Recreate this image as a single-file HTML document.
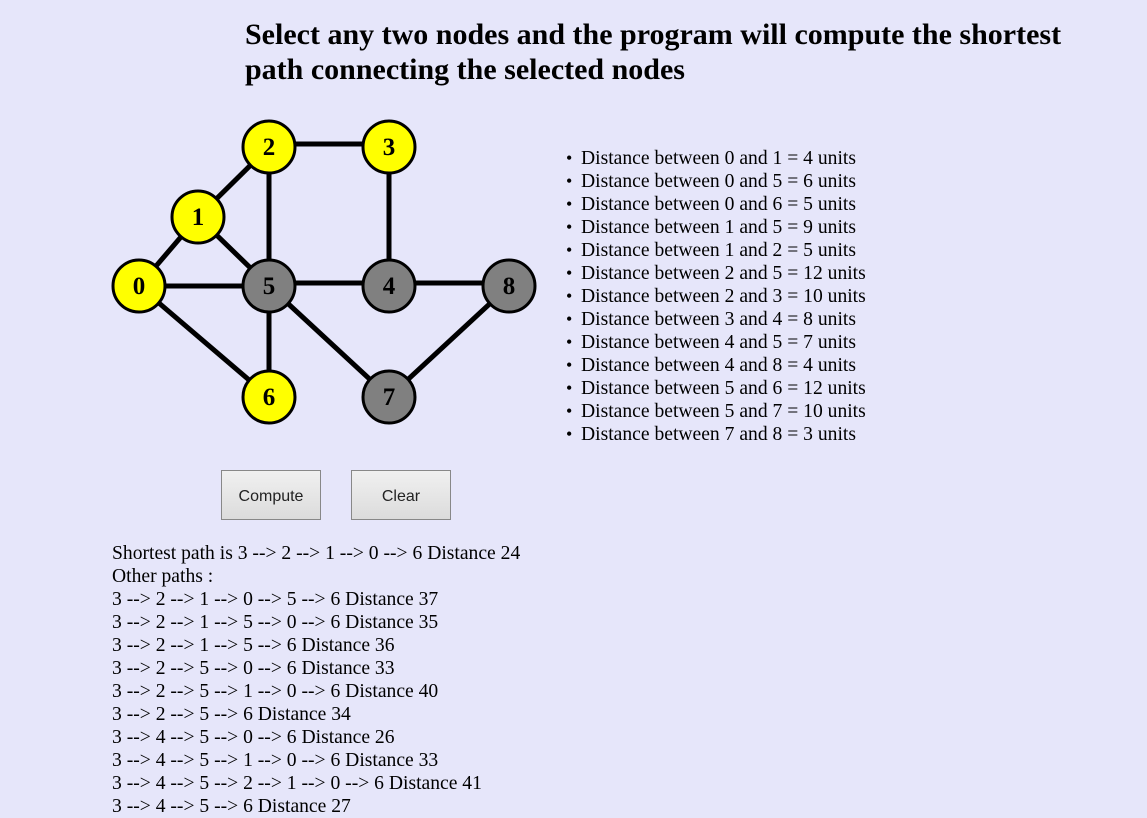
<!DOCTYPE html>
<html><head><meta charset="utf-8"><style>
body{margin:0;background:#e6e6fa;font-family:"Liberation Serif",serif;width:1147px;height:810px;overflow:hidden;position:relative;color:#000}
h1{position:absolute;left:245px;top:17px;margin:0;font-size:30px;line-height:35px;font-weight:bold;width:840px}
ul{position:absolute;left:566px;top:147px;margin:0;padding:0;list-style:none;font-size:19.6px;line-height:23px}
ul li:before{content:"•";display:inline-block;width:15px;font-size:18px}
.btn{position:absolute;top:470px;width:98px;height:48px;border:1px solid #888;background:linear-gradient(#f0f0f0,#dcdcdc);font-family:"Liberation Sans",sans-serif;font-size:16px;text-align:center;line-height:51px;color:#222}
#out{position:absolute;left:112px;top:542px;font-size:19.6px;line-height:23px;white-space:pre}
svg{position:absolute;left:0;top:0}
</style></head><body>
<h1>Select any two nodes and the program will compute the shortest path connecting the selected nodes</h1>
<svg width="560" height="440">
<g stroke="#000" stroke-width="5">
<line x1="139" y1="286" x2="198" y2="217"/><line x1="198" y1="217" x2="269" y2="147"/>
<line x1="198" y1="217" x2="269" y2="286"/><line x1="269" y1="144" x2="389" y2="144"/>
<line x1="269" y1="147" x2="269" y2="286"/><line x1="389" y1="147" x2="389" y2="286"/>
<line x1="139" y1="286" x2="269" y2="286"/><line x1="269" y1="283" x2="509" y2="283"/>
<line x1="139" y1="286" x2="269" y2="397"/><line x1="269" y1="286" x2="269" y2="397"/>
<line x1="269" y1="286" x2="389" y2="397"/><line x1="389" y1="397" x2="509" y2="286"/>
</g>
<g stroke="#000" stroke-width="3" font-family="Liberation Serif" font-weight="bold" font-size="25" text-anchor="middle">
<circle cx="139" cy="286" r="26" fill="#ff0"/><circle cx="198" cy="217" r="26" fill="#ff0"/>
<circle cx="269" cy="147" r="26" fill="#ff0"/><circle cx="389" cy="147" r="26" fill="#ff0"/>
<circle cx="389" cy="286" r="26" fill="#808080"/><circle cx="269" cy="286" r="26" fill="#808080"/>
<circle cx="269" cy="397" r="26" fill="#ff0"/><circle cx="389" cy="397" r="26" fill="#808080"/>
<circle cx="509" cy="286" r="26" fill="#808080"/>
<g stroke="none" fill="#000">
<text x="139" y="294">0</text><text x="198" y="225">1</text><text x="269" y="155">2</text>
<text x="389" y="155">3</text><text x="389" y="294">4</text><text x="269" y="294">5</text>
<text x="269" y="405">6</text><text x="389" y="405">7</text><text x="509" y="294">8</text>
</g></g></svg>
<ul>
<li>Distance between 0 and 1 = 4 units</li>
<li>Distance between 0 and 5 = 6 units</li>
<li>Distance between 0 and 6 = 5 units</li>
<li>Distance between 1 and 5 = 9 units</li>
<li>Distance between 1 and 2 = 5 units</li>
<li>Distance between 2 and 5 = 12 units</li>
<li>Distance between 2 and 3 = 10 units</li>
<li>Distance between 3 and 4 = 8 units</li>
<li>Distance between 4 and 5 = 7 units</li>
<li>Distance between 4 and 8 = 4 units</li>
<li>Distance between 5 and 6 = 12 units</li>
<li>Distance between 5 and 7 = 10 units</li>
<li>Distance between 7 and 8 = 3 units</li>
</ul>
<div class="btn" style="left:221px">Compute</div>
<div class="btn" style="left:351px">Clear</div>
<div id="out">Shortest path is 3 --&gt; 2 --&gt; 1 --&gt; 0 --&gt; 6 Distance 24
Other paths :
3 --&gt; 2 --&gt; 1 --&gt; 0 --&gt; 5 --&gt; 6 Distance 37
3 --&gt; 2 --&gt; 1 --&gt; 5 --&gt; 0 --&gt; 6 Distance 35
3 --&gt; 2 --&gt; 1 --&gt; 5 --&gt; 6 Distance 36
3 --&gt; 2 --&gt; 5 --&gt; 0 --&gt; 6 Distance 33
3 --&gt; 2 --&gt; 5 --&gt; 1 --&gt; 0 --&gt; 6 Distance 40
3 --&gt; 2 --&gt; 5 --&gt; 6 Distance 34
3 --&gt; 4 --&gt; 5 --&gt; 0 --&gt; 6 Distance 26
3 --&gt; 4 --&gt; 5 --&gt; 1 --&gt; 0 --&gt; 6 Distance 33
3 --&gt; 4 --&gt; 5 --&gt; 2 --&gt; 1 --&gt; 0 --&gt; 6 Distance 41
3 --&gt; 4 --&gt; 5 --&gt; 6 Distance 27</div>
</body></html>
